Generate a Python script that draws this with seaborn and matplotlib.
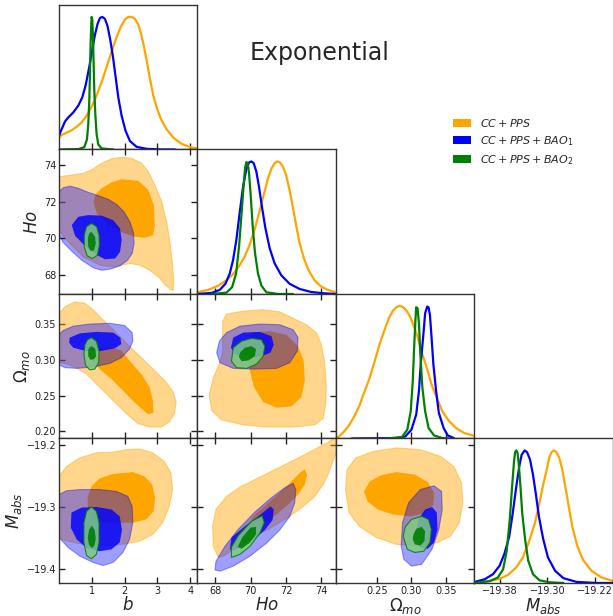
import matplotlib
matplotlib.use('Agg')
import matplotlib.pyplot as plt
import seaborn as sns
from matplotlib.patches import Patch

# ---- 1D marginal posteriors (peak normalised to 1) ----
b_cc_x = [0.0, 0.081, 0.234, 0.386, 0.538, 0.69, 0.843, 0.995, 1.147, 1.3, 1.452, 1.604, 1.756, 1.888, 2.01, 2.112, 2.213, 2.315, 2.416, 2.497, 2.579, 2.67, 2.772, 2.873, 2.975, 3.107, 3.279, 3.482, 3.736, 3.99, 4.264]
b_cc_y = [0.089, 0.109, 0.127, 0.145, 0.171, 0.204, 0.254, 0.323, 0.407, 0.509, 0.623, 0.738, 0.847, 0.929, 0.98, 1.0, 1.0, 0.985, 0.941, 0.878, 0.789, 0.674, 0.534, 0.407, 0.318, 0.229, 0.153, 0.089, 0.043, 0.018, 0.005]
b_bao1_x = [0.0, 0.081, 0.183, 0.284, 0.437, 0.589, 0.711, 0.812, 0.914, 1.015, 1.096, 1.178, 1.249, 1.32, 1.401, 1.482, 1.563, 1.645, 1.726, 1.807, 1.909, 2.03, 2.162, 2.365, 2.67, 3.127, 3.533]
b_bao1_y = [0.102, 0.153, 0.211, 0.242, 0.28, 0.331, 0.394, 0.483, 0.611, 0.751, 0.865, 0.949, 0.992, 1.0, 0.985, 0.929, 0.827, 0.7, 0.547, 0.394, 0.254, 0.14, 0.064, 0.02, 0.005, 0.0, 0.0]
b_bao2_x = [0.0, 0.589, 0.772, 0.853, 0.893, 0.924, 0.944, 0.964, 0.985, 0.995, 1.015, 1.036, 1.056, 1.076, 1.107, 1.147, 1.198, 1.3, 1.655]
b_bao2_y = [0.0, 0.003, 0.018, 0.076, 0.191, 0.369, 0.573, 0.802, 0.954, 1.0, 0.98, 0.852, 0.649, 0.445, 0.267, 0.115, 0.038, 0.008, 0.0]

ho_cc_x = [66.943, 67.585, 68.151, 68.623, 69.0, 69.377, 69.66, 69.943, 70.226, 70.509, 70.755, 70.981, 71.17, 71.358, 71.509, 71.66, 71.83, 72.019, 72.208, 72.396, 72.585, 72.774, 73.019, 73.283, 73.623, 74.0, 74.377, 74.811]
ho_cc_y = [0.013, 0.031, 0.062, 0.103, 0.149, 0.218, 0.282, 0.372, 0.487, 0.628, 0.756, 0.872, 0.944, 0.987, 1.0, 0.992, 0.962, 0.892, 0.782, 0.654, 0.513, 0.385, 0.269, 0.179, 0.103, 0.056, 0.031, 0.013]
ho_bao1_x = [66.943, 67.774, 68.245, 68.566, 68.811, 69.0, 69.189, 69.377, 69.566, 69.755, 69.906, 70.038, 70.17, 70.321, 70.472, 70.642, 70.83, 71.075, 71.358, 71.736, 72.208, 72.774, 73.434, 74.189, 74.811]
ho_bao1_y = [0.0, 0.008, 0.031, 0.077, 0.154, 0.256, 0.41, 0.615, 0.808, 0.944, 0.992, 1.0, 0.987, 0.923, 0.808, 0.654, 0.5, 0.346, 0.231, 0.141, 0.077, 0.038, 0.015, 0.005, 0.0]
ho_bao2_x = [67.774, 68.623, 68.943, 69.17, 69.34, 69.472, 69.585, 69.679, 69.755, 69.83, 69.906, 70.0, 70.113, 70.245, 70.415, 70.604, 70.887, 71.547, 72.396]
ho_bao2_y = [0.0, 0.01, 0.051, 0.154, 0.359, 0.59, 0.795, 0.949, 0.995, 0.987, 0.91, 0.744, 0.513, 0.308, 0.154, 0.064, 0.013, 0.0, 0.0]

om_cc_x = [0.188, 0.194, 0.201, 0.209, 0.216, 0.224, 0.231, 0.239, 0.246, 0.253, 0.261, 0.267, 0.273, 0.278, 0.283, 0.288, 0.293, 0.298, 0.303, 0.309, 0.315, 0.323, 0.33, 0.338, 0.345, 0.355, 0.365, 0.377, 0.393]
om_cc_y = [0.0, 0.013, 0.048, 0.099, 0.16, 0.244, 0.346, 0.455, 0.575, 0.702, 0.822, 0.906, 0.964, 0.99, 1.0, 0.99, 0.964, 0.919, 0.855, 0.766, 0.651, 0.524, 0.397, 0.295, 0.206, 0.13, 0.079, 0.041, 0.018]
om_bao1_x = [0.213, 0.278, 0.291, 0.30, 0.307, 0.311, 0.314, 0.318, 0.32, 0.323, 0.325, 0.327, 0.329, 0.332, 0.336, 0.34, 0.347, 0.353, 0.362]
om_bao1_y = [0.0, 0.003, 0.015, 0.066, 0.181, 0.359, 0.588, 0.817, 0.944, 0.995, 0.99, 0.931, 0.791, 0.562, 0.359, 0.193, 0.079, 0.023, 0.003]
om_bao2_x = [0.263, 0.286, 0.294, 0.299, 0.302, 0.304, 0.306, 0.307, 0.309, 0.311, 0.313, 0.316, 0.32, 0.325, 0.333, 0.345, 0.357]
om_bao2_y = [0.0, 0.01, 0.066, 0.206, 0.435, 0.69, 0.906, 0.99, 0.982, 0.867, 0.639, 0.384, 0.206, 0.079, 0.023, 0.003, 0.0]

m_cc_x = [-19.424, -19.397, -19.38, -19.366, -19.352, -19.341, -19.331, -19.321, -19.314, -19.307, -19.301, -19.297, -19.293, -19.289, -19.285, -19.28, -19.275, -19.27, -19.264, -19.258, -19.25, -19.24, -19.226, -19.209, -19.19]
m_cc_y = [0.005, 0.015, 0.031, 0.061, 0.117, 0.193, 0.308, 0.448, 0.588, 0.74, 0.855, 0.944, 0.987, 1.0, 0.987, 0.944, 0.855, 0.728, 0.575, 0.422, 0.282, 0.173, 0.092, 0.041, 0.015]
m_bao1_x = [-19.424, -19.405, -19.391, -19.38, -19.372, -19.364, -19.358, -19.352, -19.347, -19.343, -19.338, -19.334, -19.329, -19.324, -19.319, -19.314, -19.307, -19.299, -19.287, -19.273, -19.251, -19.217, -19.19]
m_bao1_y = [0.005, 0.028, 0.066, 0.13, 0.219, 0.346, 0.524, 0.728, 0.88, 0.967, 1.0, 0.987, 0.931, 0.817, 0.664, 0.499, 0.333, 0.193, 0.092, 0.036, 0.008, 0.0, 0.0]
m_bao2_x = [-19.424, -19.397, -19.383, -19.374, -19.368, -19.363, -19.359, -19.356, -19.354, -19.352, -19.35, -19.348, -19.345, -19.342, -19.337, -19.332, -19.324, -19.313, -19.296, -19.273]
m_bao2_y = [0.0, 0.013, 0.041, 0.104, 0.244, 0.473, 0.728, 0.906, 0.987, 1.0, 0.982, 0.906, 0.728, 0.524, 0.321, 0.168, 0.066, 0.02, 0.005, 0.0]

# ---- 2D contour outlines (68% and 95%), (x, y) in data units ----
b_ho_cc_95 = [(0.0, 73.36), (0.39, 73.45), (0.74, 73.55), (0.99, 73.73), (1.30, 74.09), (1.60, 74.33), (1.91, 74.42), (2.21, 74.36), (2.52, 74.09), (2.72, 73.64), (2.92, 72.91), (3.13, 72.0), (3.28, 70.91), (3.38, 69.82), (3.45, 68.73), (3.50, 67.64), (3.48, 67.18), (3.38, 67.24), (3.23, 67.49), (3.03, 67.91), (2.77, 68.27), (2.47, 68.55), (2.16, 68.64), (1.65, 68.45), (1.25, 68.55), (0.74, 69.0), (0.28, 69.82), (0.0, 70.45)]
b_ho_cc_68 = [(1.12, 72.4), (1.30, 72.73), (1.60, 73.05), (1.91, 73.22), (2.42, 73.13), (2.72, 72.64), (2.89, 71.82), (2.92, 70.73), (2.87, 70.18), (2.62, 70.04), (2.31, 70.09), (1.91, 70.33), (1.50, 70.73), (1.15, 71.36), (1.05, 72.0)]
b_ho_bao1_95 = [(0.0, 72.55), (0.13, 72.76), (0.34, 72.85), (0.59, 72.73), (0.89, 72.51), (1.20, 72.33), (1.50, 72.13), (1.76, 71.85), (1.98, 71.45), (2.16, 70.91), (2.27, 70.33), (2.29, 69.73), (2.23, 69.18), (2.09, 68.82), (1.86, 68.51), (1.55, 68.33), (1.30, 68.27), (1.05, 68.4), (0.69, 68.82), (0.39, 69.31), (0.13, 69.78), (0.0, 70.22)]
b_ho_bao1_68 = [(0.39, 70.73), (0.59, 71.18), (0.89, 71.27), (1.30, 71.24), (1.65, 71.0), (1.86, 70.55), (1.91, 69.91), (1.86, 69.27), (1.71, 68.91), (1.40, 68.87), (1.10, 69.15), (0.79, 69.6), (0.49, 70.15)]
b_ho_bao2_95 = [(0.99, 70.82), (1.15, 70.64), (1.22, 70.18), (1.23, 69.64), (1.17, 69.09), (1.02, 68.91), (0.86, 69.05), (0.77, 69.55), (0.77, 70.18), (0.84, 70.64)]
b_ho_bao2_68 = [(0.99, 70.36), (1.10, 70.09), (1.12, 69.73), (1.07, 69.36), (0.97, 69.31), (0.89, 69.55), (0.88, 70.0), (0.92, 70.27)]

b_om_cc_95 = [(0.0, 0.365), (0.18, 0.374), (0.48, 0.381), (0.79, 0.379), (1.04, 0.37), (1.34, 0.356), (1.70, 0.34), (2.10, 0.321), (2.51, 0.303), (2.91, 0.285), (3.26, 0.269), (3.48, 0.255), (3.57, 0.241), (3.52, 0.225), (3.36, 0.213), (3.11, 0.206), (2.76, 0.206), (2.40, 0.211), (2.05, 0.225), (1.65, 0.243), (1.24, 0.262), (0.84, 0.28), (0.48, 0.29), (0.18, 0.295), (0.0, 0.296)]
b_om_cc_68 = [(1.04, 0.315), (1.55, 0.318), (1.90, 0.313), (2.20, 0.296), (2.51, 0.28), (2.76, 0.262), (2.86, 0.243), (2.88, 0.226), (2.71, 0.224), (2.51, 0.232), (2.25, 0.243), (1.95, 0.257), (1.60, 0.273), (1.24, 0.287), (0.99, 0.301), (0.94, 0.31)]
b_om_bao1_95 = [(0.0, 0.335), (0.13, 0.341), (0.43, 0.347), (0.94, 0.35), (1.55, 0.351), (2.0, 0.348), (2.23, 0.338), (2.25, 0.326), (2.15, 0.315), (1.90, 0.303), (1.55, 0.295), (1.04, 0.29), (0.54, 0.288), (0.18, 0.289), (0.0, 0.293)]
b_om_bao1_68 = [(0.33, 0.331), (0.64, 0.337), (1.14, 0.339), (1.65, 0.338), (1.87, 0.331), (1.90, 0.322), (1.70, 0.316), (1.24, 0.312), (0.84, 0.312), (0.43, 0.317), (0.31, 0.324)]
b_om_bao2_95 = [(0.99, 0.331), (1.14, 0.326), (1.22, 0.312), (1.21, 0.296), (1.09, 0.287), (0.94, 0.286), (0.81, 0.292), (0.76, 0.308), (0.79, 0.321), (0.87, 0.328)]
b_om_bao2_68 = [(1.01, 0.319), (1.11, 0.315), (1.13, 0.305), (1.07, 0.301), (0.96, 0.30), (0.89, 0.305), (0.89, 0.314), (0.94, 0.318)]

ho_om_cc_95 = [(68.41, 0.354), (68.63, 0.364), (69.58, 0.368), (70.71, 0.37), (71.65, 0.367), (72.41, 0.358), (73.16, 0.349), (73.73, 0.338), (74.01, 0.321), (74.2, 0.296), (74.29, 0.266), (74.26, 0.239), (74.11, 0.218), (73.64, 0.209), (72.41, 0.206), (70.9, 0.206), (69.58, 0.209), (68.35, 0.216), (67.78, 0.229), (67.65, 0.252), (67.88, 0.275), (68.25, 0.296), (68.41, 0.312)]
ho_om_cc_68 = [(70.14, 0.338), (71.09, 0.34), (72.03, 0.335), (72.69, 0.319), (73.01, 0.298), (73.07, 0.271), (72.88, 0.248), (72.32, 0.235), (71.47, 0.233), (70.71, 0.241), (70.18, 0.262), (69.92, 0.289), (69.86, 0.317), (69.92, 0.331)]
ho_om_bao1_95 = [(68.07, 0.31), (68.22, 0.326), (68.63, 0.338), (69.39, 0.347), (70.52, 0.35), (71.65, 0.349), (72.41, 0.342), (72.69, 0.331), (72.64, 0.312), (72.22, 0.296), (71.47, 0.288), (70.14, 0.287), (69.01, 0.288), (68.25, 0.296)]
ho_om_bao1_68 = [(69.01, 0.331), (69.58, 0.338), (70.52, 0.339), (71.18, 0.333), (71.31, 0.321), (71.12, 0.31), (70.52, 0.304), (69.77, 0.303), (69.1, 0.308), (68.88, 0.317)]
ho_om_bao2_95 = [(69.01, 0.317), (69.48, 0.326), (70.05, 0.33), (70.61, 0.328), (70.8, 0.319), (70.71, 0.305), (70.33, 0.294), (69.77, 0.288), (69.2, 0.289), (68.91, 0.298)]
ho_om_bao2_68 = [(69.39, 0.31), (69.67, 0.317), (70.05, 0.319), (70.3, 0.315), (70.24, 0.305), (69.86, 0.299), (69.48, 0.298), (69.33, 0.304)]

b_m_cc_95 = [(0.0, -19.251), (0.23, -19.235), (0.64, -19.221), (1.14, -19.213), (1.65, -19.212), (2.05, -19.208), (2.45, -19.207), (2.86, -19.213), (3.21, -19.227), (3.41, -19.245), (3.46, -19.272), (3.36, -19.299), (3.16, -19.325), (2.86, -19.344), (2.45, -19.355), (2.05, -19.359), (1.55, -19.362), (1.04, -19.361), (0.54, -19.358), (0.13, -19.353), (0.0, -19.351)]
b_m_cc_68 = [(0.99, -19.267), (1.24, -19.254), (1.65, -19.247), (2.25, -19.244), (2.61, -19.251), (2.84, -19.264), (2.93, -19.285), (2.88, -19.307), (2.66, -19.32), (2.25, -19.325), (1.65, -19.326), (1.14, -19.323), (0.89, -19.309), (0.87, -19.285)]
b_m_bao1_95 = [(0.0, -19.28), (0.23, -19.274), (0.64, -19.272), (1.24, -19.272), (1.75, -19.275), (2.10, -19.283), (2.23, -19.299), (2.25, -19.325), (2.15, -19.352), (1.95, -19.373), (1.65, -19.389), (1.34, -19.394), (1.04, -19.389), (0.64, -19.379), (0.28, -19.365), (0.0, -19.349)]
b_m_bao1_68 = [(0.38, -19.309), (0.69, -19.301), (1.14, -19.3), (1.60, -19.304), (1.85, -19.315), (1.92, -19.337), (1.85, -19.357), (1.60, -19.368), (1.24, -19.371), (0.84, -19.366), (0.54, -19.352), (0.36, -19.333)]
b_m_bao2_95 = [(0.99, -19.3), (1.14, -19.307), (1.22, -19.325), (1.22, -19.357), (1.14, -19.376), (0.99, -19.383), (0.84, -19.378), (0.76, -19.357), (0.76, -19.325), (0.84, -19.307)]
b_m_bao2_68 = [(1.0, -19.33), (1.09, -19.337), (1.12, -19.351), (1.08, -19.362), (1.0, -19.366), (0.91, -19.36), (0.88, -19.349), (0.92, -19.336)]

ho_m_cc_95 = [(68.16, -19.381), (67.88, -19.363), (67.84, -19.331), (68.03, -19.304), (68.63, -19.283), (69.39, -19.268), (70.52, -19.252), (71.65, -19.236), (72.79, -19.22), (73.73, -19.206), (74.39, -19.196), (74.9, -19.185), (74.9, -19.21), (74.64, -19.229), (74.39, -19.248), (74.11, -19.264), (73.64, -19.283), (72.98, -19.299), (72.22, -19.315), (71.28, -19.331), (70.14, -19.349), (69.2, -19.365), (68.44, -19.379)]
ho_m_cc_68 = [(73.07, -19.24), (73.2, -19.248), (73.07, -19.264), (72.69, -19.28), (72.12, -19.296), (71.47, -19.312), (70.71, -19.328), (70.14, -19.336), (69.92, -19.328), (70.14, -19.315), (70.9, -19.296), (71.65, -19.277), (72.31, -19.259), (72.79, -19.245)]
ho_m_bao1_95 = [(67.97, -19.401), (68.03, -19.387), (68.54, -19.363), (69.29, -19.336), (70.24, -19.308), (71.18, -19.285), (71.94, -19.269), (72.41, -19.262), (72.56, -19.272), (72.5, -19.293), (72.22, -19.315), (71.65, -19.337), (70.9, -19.358), (69.96, -19.379), (69.01, -19.395), (68.26, -19.403)]
ho_m_bao1_68 = [(68.82, -19.367), (68.91, -19.349), (69.67, -19.331), (70.43, -19.315), (71.12, -19.299), (71.31, -19.304), (71.24, -19.321), (70.8, -19.337), (70.14, -19.353), (69.39, -19.365), (68.91, -19.371)]
ho_m_bao2_95 = [(68.91, -19.381), (68.9, -19.365), (69.29, -19.346), (70.05, -19.323), (70.65, -19.314), (70.77, -19.325), (70.52, -19.342), (69.96, -19.363), (69.39, -19.376)]
ho_m_bao2_68 = [(69.26, -19.364), (69.54, -19.348), (69.99, -19.333), (70.3, -19.332), (70.3, -19.344), (69.92, -19.358), (69.48, -19.367)]

om_m_cc_95 = [(0.204, -19.272), (0.206, -19.24), (0.219, -19.221), (0.244, -19.211), (0.278, -19.205), (0.313, -19.208), (0.343, -19.219), (0.362, -19.235), (0.373, -19.261), (0.375, -19.293), (0.37, -19.325), (0.357, -19.347), (0.338, -19.357), (0.313, -19.362), (0.278, -19.36), (0.249, -19.349), (0.224, -19.331), (0.209, -19.309)]
om_m_cc_68 = [(0.231, -19.275), (0.239, -19.259), (0.256, -19.249), (0.278, -19.244), (0.305, -19.248), (0.324, -19.26), (0.333, -19.277), (0.332, -19.296), (0.32, -19.31), (0.298, -19.315), (0.273, -19.312), (0.251, -19.304), (0.236, -19.291)]
om_m_bao1_95 = [(0.287, -19.325), (0.296, -19.293), (0.313, -19.272), (0.333, -19.266), (0.344, -19.275), (0.345, -19.304), (0.34, -19.336), (0.33, -19.368), (0.315, -19.392), (0.3, -19.395), (0.289, -19.384), (0.285, -19.363)]
om_m_bao1_68 = [(0.31, -19.32), (0.32, -19.304), (0.33, -19.3), (0.337, -19.309), (0.338, -19.336), (0.333, -19.357), (0.324, -19.367), (0.313, -19.365), (0.306, -19.349)]
om_m_bao2_95 = [(0.288, -19.347), (0.291, -19.332), (0.3, -19.32), (0.315, -19.315), (0.325, -19.32), (0.329, -19.336), (0.327, -19.357), (0.318, -19.371), (0.305, -19.373), (0.294, -19.368)]
om_m_bao2_68 = [(0.303, -19.344), (0.307, -19.335), (0.315, -19.332), (0.32, -19.339), (0.319, -19.355), (0.313, -19.362), (0.305, -19.36), (0.302, -19.352)]

# ---- parameters, datasets and styling ----
params = ['b', 'Ho', 'Om', 'M']
labels = {'b': '$b$', 'Ho': '$Ho$', 'Om': r'$\Omega_{mo}$', 'M': r'$M_{abs}$'}
datasets = ['cc', 'bao1', 'bao2']
legend_labels = [r'$CC+PPS$', r'$CC+PPS+BAO_1$', r'$CC+PPS+BAO_2$']
colors = {'cc': '#FFA500', 'bao1': '#0000FF', 'bao2': '#008000'}
# (outer colour, outer alpha, inner colour, inner alpha)
fills = {'cc': ('#FFA500', 0.45, '#FFA500', 1.0),
         'bao1': ('#0000FF', 0.38, '#0000FF', 0.82),
         'bao2': ('#7FCC80', 0.85, '#008000', 0.9)}

lims = {'b': (0.0, 4.22), 'Ho': (66.98, 74.84), 'Om': (0.19, 0.392), 'M': (-19.422, -19.19)}
yticks = {'Ho': [68, 70, 72, 74], 'Om': [0.20, 0.25, 0.30, 0.35], 'M': [-19.2, -19.3, -19.4]}
xticks = {'b': [1, 2, 3, 4], 'Ho': [68, 70, 72, 74], 'Om': [0.25, 0.30, 0.35], 'M': [-19.38, -19.30, -19.22]}
fmt = {'b': '{:.0f}', 'Ho': '{:.0f}', 'Om': '{:.2f}', 'M': '{:.2f}'}
yfmt = {'Ho': '{:.0f}', 'Om': '{:.2f}', 'M': '{:.1f}'}

marginals = {
    'b': [(b_cc_x, b_cc_y), (b_bao1_x, b_bao1_y), (b_bao2_x, b_bao2_y)],
    'Ho': [(ho_cc_x, ho_cc_y), (ho_bao1_x, ho_bao1_y), (ho_bao2_x, ho_bao2_y)],
    'Om': [(om_cc_x, om_cc_y), (om_bao1_x, om_bao1_y), (om_bao2_x, om_bao2_y)],
    'M': [(m_cc_x, m_cc_y), (m_bao1_x, m_bao1_y), (m_bao2_x, m_bao2_y)],
}
contours = {
    ('b', 'Ho'): [(b_ho_cc_95, b_ho_cc_68), (b_ho_bao1_95, b_ho_bao1_68), (b_ho_bao2_95, b_ho_bao2_68)],
    ('b', 'Om'): [(b_om_cc_95, b_om_cc_68), (b_om_bao1_95, b_om_bao1_68), (b_om_bao2_95, b_om_bao2_68)],
    ('Ho', 'Om'): [(ho_om_cc_95, ho_om_cc_68), (ho_om_bao1_95, ho_om_bao1_68), (ho_om_bao2_95, ho_om_bao2_68)],
    ('b', 'M'): [(b_m_cc_95, b_m_cc_68), (b_m_bao1_95, b_m_bao1_68), (b_m_bao2_95, b_m_bao2_68)],
    ('Ho', 'M'): [(ho_m_cc_95, ho_m_cc_68), (ho_m_bao1_95, ho_m_bao1_68), (ho_m_bao2_95, ho_m_bao2_68)],
    ('Om', 'M'): [(om_m_cc_95, om_m_cc_68), (om_m_bao1_95, om_m_bao1_68), (om_m_bao2_95, om_m_bao2_68)],
}


def tick_strings(vals, f):
    return [f.format(v).replace('-', '\u2212') for v in vals]


sns.set_style('white')
plt.rcParams['font.family'] = ['DejaVu Sans']
plt.rcParams['axes.edgecolor'] = '#333333'
plt.rcParams['axes.linewidth'] = 1.0

fig, axes = plt.subplots(4, 4, figsize=(6.13, 6.16), dpi=100)
fig.subplots_adjust(left=0.0962, right=1.0, bottom=0.0536, top=0.9919, wspace=0, hspace=0)

for i, py in enumerate(params):
    for j, px in enumerate(params):
        ax = axes[i, j]
        if j > i:
            ax.set_visible(False)
            continue
        ax.set_xlim(lims[px])
        ax.set_xticks(xticks[px], labels=tick_strings(xticks[px], fmt[px]))
        if i == j:
            # 1D marginal
            for ds, (xs, ys) in zip(datasets, marginals[px]):
                sns.lineplot(x=xs, y=ys, ax=ax, color=colors[ds], lw=1.6,
                             estimator=None, sort=False, legend=False)
            ax.set_ylim(0, 1.09)
            ax.set_yticks([])
            ax.tick_params(axis='x', direction='in', length=4, width=1, pad=2, bottom=True, top=False,
                           labelbottom=(i == 3), labelsize=7, colors='#222222')
        else:
            for ds, (outer, inner) in zip(datasets, contours[(px, py)]):
                oc, oa, ic, ia = fills[ds]
                ax.fill([p[0] for p in outer], [p[1] for p in outer], facecolor=oc, alpha=oa,
                        edgecolor=colors[ds], lw=0.8, joinstyle='round')
                ax.fill([p[0] for p in inner], [p[1] for p in inner], facecolor=ic, alpha=ia,
                        edgecolor='none')
            ax.set_ylim(lims[py])
            ax.set_yticks(yticks[py], labels=tick_strings(yticks[py], yfmt[py]))
            ax.tick_params(direction='in', length=4, width=1, pad=2, bottom=True, top=True, left=True,
                           right=True, labelbottom=(i == 3), labelleft=(j == 0), labelsize=7,
                           colors='#222222')
        ax.set_xlabel('')
        ax.set_ylabel('')
        if i == 3:
            ax.set_xlabel(labels[px], fontsize=12, labelpad=0)
        if j == 0 and i > 0:
            ax.set_ylabel(labels[py], fontsize=12, labelpad=2)

fig.text(0.522, 0.914, 'Exponential', ha='center', va='center', fontsize=17)

handles = [Patch(facecolor=colors[ds], edgecolor='none', label=lab) for ds, lab in zip(datasets, legend_labels)]
fig.legend(handles=handles, loc='upper left', bbox_to_anchor=(0.722, 0.826), frameon=False,
           fontsize=8, handlelength=1.7, handleheight=0.75, labelspacing=0.45, handletextpad=0.8)

fig.savefig('out.png', dpi=100)
